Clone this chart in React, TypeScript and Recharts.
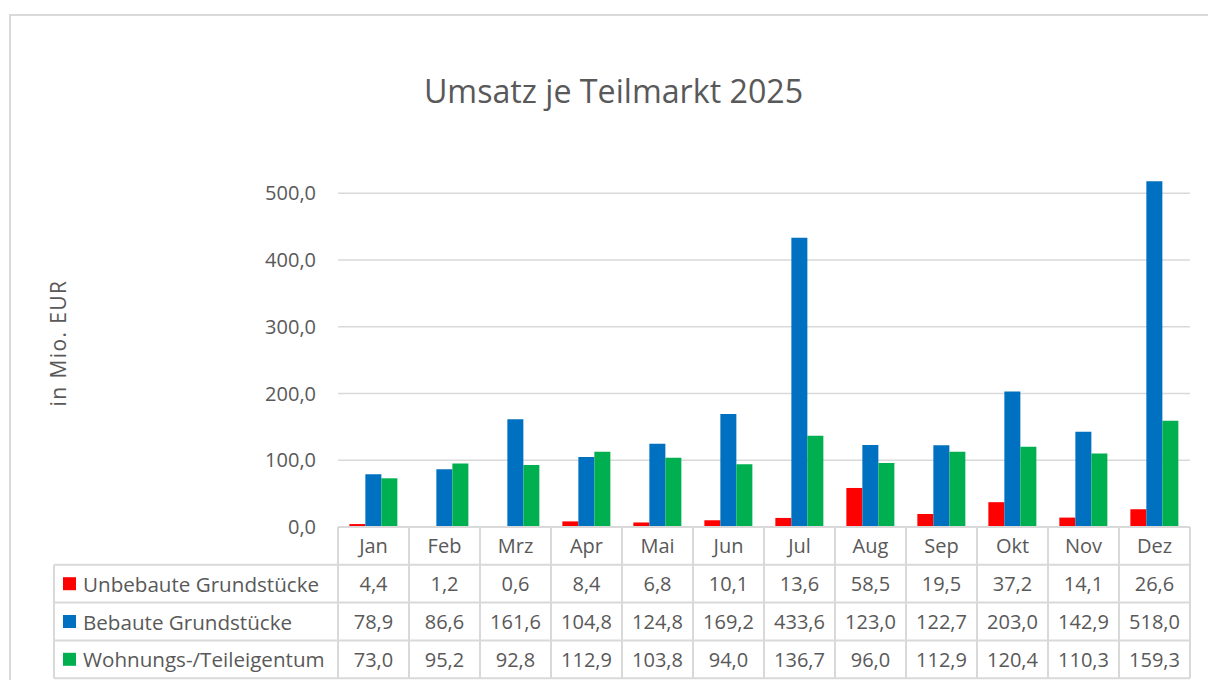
import { Bar, BarChart, CartesianGrid, XAxis, YAxis } from 'recharts'

const months = ['Jan', 'Feb', 'Mrz', 'Apr', 'Mai', 'Jun', 'Jul', 'Aug', 'Sep', 'Okt', 'Nov', 'Dez']
const unbebaut = [4.4, 1.2, 0.6, 8.4, 6.8, 10.1, 13.6, 58.5, 19.5, 37.2, 14.1, 26.6]
const bebaut = [78.9, 86.6, 161.6, 104.8, 124.8, 169.2, 433.6, 123.0, 122.7, 203.0, 142.9, 518.0]
const wohnung = [73.0, 95.2, 92.8, 112.9, 103.8, 94.0, 136.7, 96.0, 112.9, 120.4, 110.3, 159.3]
const yTicks = [0, 100, 200, 300, 400, 500]
const Y_MAX = 550

const series = [
  { key: 'unbebaut', name: 'Unbebaute Grundstücke', color: '#FF0000', values: unbebaut },
  { key: 'bebaut', name: 'Bebaute Grundstücke', color: '#0070C0', values: bebaut },
  { key: 'wohnung', name: 'Wohnungs-/Teileigentum', color: '#00B050', values: wohnung },
]

const data = months.map((m, i) => ({
  month: m,
  unbebaut: unbebaut[i],
  bebaut: bebaut[i],
  wohnung: wohnung[i],
}))

const fmt = (v: number) => v.toFixed(1).replace('.', ',')

const TEXT = '#595959'
const LINE = '#d9d9d9'
const ROW_H = 37.8
const LEGEND_LEFT = 46
const FONT = 20

function TableTick(props: any) {
  const { x, y, index, width, visibleTicksCount, payload } = props
  const w = width / visibleTicksCount
  const left = x - w / 2
  const right = x + w / 2
  const bottom = y + ROW_H * 4
  return (
    <g>
      <line x1={right} y1={y} x2={right} y2={bottom} stroke={LINE} strokeWidth={2} />
      {index === 0 && (
        <line x1={left} y1={y} x2={left} y2={bottom} stroke={LINE} strokeWidth={2} />
      )}
      {[1, 2, 3, 4].map((r) => (
        <line
          key={r}
          x1={index === 0 ? LEGEND_LEFT : left}
          y1={y + ROW_H * r}
          x2={right}
          y2={y + ROW_H * r}
          stroke={LINE}
          strokeWidth={2}
        />
      ))}
      {index === 0 && (
        <line x1={LEGEND_LEFT} y1={y + ROW_H} x2={LEGEND_LEFT} y2={bottom} stroke={LINE} strokeWidth={2} />
      )}
      <text x={x} y={y + ROW_H / 2} textAnchor="middle" dominantBaseline="central" fill={TEXT} fontSize={FONT}>
        {payload.value}
      </text>
      {series.map((s, r) => (
        <g key={s.key}>
          <text
            x={x}
            y={y + ROW_H * (r + 1.5)}
            textAnchor="middle"
            dominantBaseline="central"
            fill={TEXT}
            fontSize={FONT}
          >
            {fmt(s.values[index])}
          </text>
          {index === 0 && (
            <>
              <rect x={LEGEND_LEFT + 9} y={y + ROW_H * (r + 1.5) - 6.5} width={13} height={13} fill={s.color} />
              <text
                x={LEGEND_LEFT + 29}
                y={y + ROW_H * (r + 1.5)}
                dominantBaseline="central"
                fill={TEXT}
                fontSize={20.6}
              >
                {s.name}
              </text>
            </>
          )}
        </g>
      ))}
    </g>
  )
}

export default function App() {
  return (
    <div
      style={{
        position: 'fixed',
        left: 8,
        top: 8,
        width: 1200,
        height: 672,
        overflow: 'hidden',
        fontFamily: '"Open Sans", sans-serif',
        background: '#fff',
      }}
    >
      <div
        style={{
          position: 'absolute',
          left: 1,
          top: 6,
          right: 0,
          bottom: 0,
          borderTop: `2px solid ${LINE}`,
          borderLeft: `2px solid ${LINE}`,
        }}
      />
      <div
        style={{
          position: 'absolute',
          left: 0,
          width: 1211,
          top: 61,
          textAlign: 'center',
          fontSize: 32.2,
          lineHeight: 'normal',
          color: TEXT,
        }}
      >
        Umsatz je Teilmarkt 2025
      </div>
      <div
        style={{
          position: 'absolute',
          left: 50,
          top: 335,
          transform: 'translate(-50%, -50%) rotate(-90deg)',
          fontSize: 21,
          letterSpacing: 1.4,
          color: TEXT,
          whiteSpace: 'nowrap',
        }}
      >
        in Mio. EUR
      </div>
      <BarChart
        width={1200}
        height={672}
        data={data}
        margin={{ top: 152, right: 18, left: 230, bottom: 0 }}
        barCategoryGap="16%"
        barGap={0}
        style={{ position: 'absolute', left: 0, top: 0 }}
      >
        <CartesianGrid
          vertical={false}
          stroke={LINE}
          strokeWidth={1.5}
          horizontalCoordinatesGenerator={({ offset }: any) =>
            yTicks.map((t) => offset.top + offset.height * (1 - t / Y_MAX))
          }
        />
        <XAxis
          dataKey="month"
          height={153}
          interval={0}
          tickSize={0}
          tickMargin={0}
          tickLine={false}
          axisLine={{ stroke: LINE, strokeWidth: 2 }}
          tick={<TableTick />}
        />
        <YAxis
          width={100}
          domain={[0, Y_MAX]}
          ticks={yTicks}
          allowDataOverflow
          tickFormatter={(v: number) => fmt(v)}
          tickLine={false}
          axisLine={false}
          tickSize={0}
          tickMargin={22}
          tick={{ fill: TEXT, fontSize: FONT }}
        />
        {series.map((s) => (
          <Bar key={s.key} dataKey={s.key} name={s.name} fill={s.color} isAnimationActive={false} />
        ))}
      </BarChart>
    </div>
  )
}
